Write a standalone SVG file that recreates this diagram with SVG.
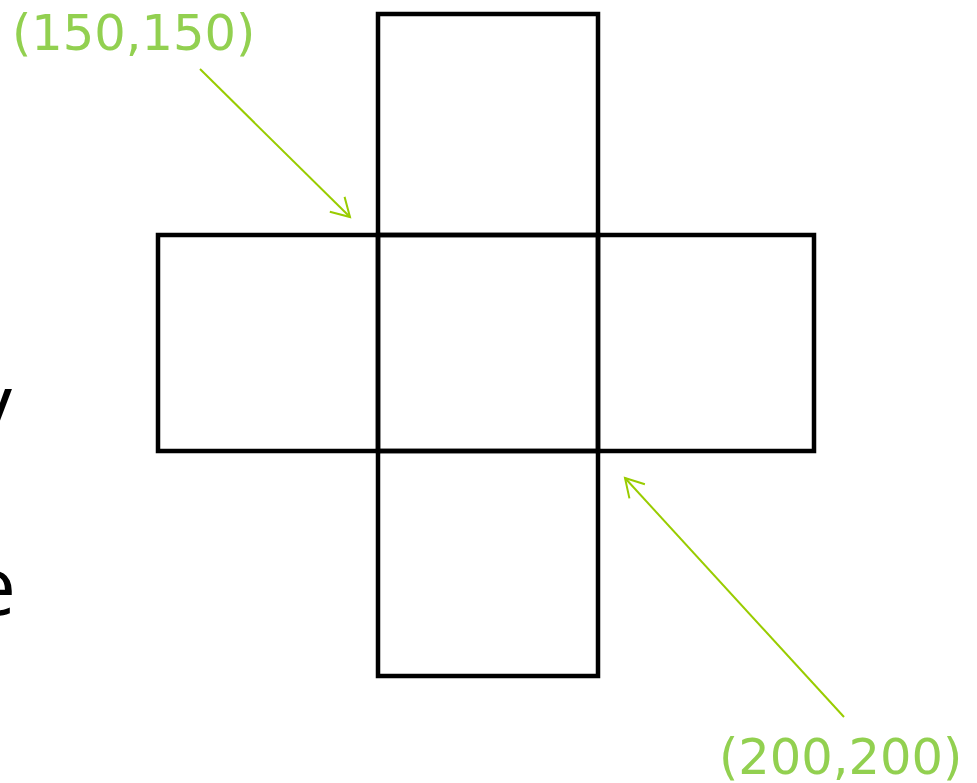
<svg xmlns="http://www.w3.org/2000/svg" width="977" height="783" viewBox="0 0 977 783">
  <style>
    .box { fill: none; stroke: #000; stroke-width: 4.5; }
    .lbl { font-family: "DejaVu Sans", Verdana, sans-serif; font-size: 49.5px; fill: #92D050; }
    .frag { font-family: "Open Sans", "Liberation Sans", sans-serif; font-size: 80px; fill: #000; }
    .arrow { stroke: #99CC00; stroke-width: 2; fill: none; }
  </style>
  <defs>
    <marker id="openArrow" markerUnits="userSpaceOnUse" markerWidth="24" markerHeight="26" refX="20" refY="12" orient="auto" viewBox="0 0 24 26">
      <path d="M2,1.5 L20,12 L2,22.5" fill="none" stroke="#99CC00" stroke-width="2"/>
    </marker>
  </defs>
  <rect width="977" height="783" fill="#fff"/>

  <g id="fragments">
    <text class="frag" x="-34" y="262">r</text>
    <text class="frag" x="-28" y="432">v</text>
    <text class="frag" x="-29" y="615">e</text>
  </g>

  <g id="square-top"><rect class="box" x="378" y="14" width="220" height="221"/></g>
  <g id="square-left"><rect class="box" x="158" y="235" width="220" height="216"/></g>
  <g id="square-center"><rect class="box" x="378" y="235" width="220" height="216"/></g>
  <g id="square-right"><rect class="box" x="598" y="235" width="216" height="216"/></g>
  <g id="square-bottom"><rect class="box" x="378" y="451" width="220" height="225"/></g>

  <g id="label-150"><text class="lbl" x="12" y="50">(150,150)</text></g>
  <g id="label-200"><text class="lbl" x="719" y="774">(200,200)</text></g>

  <g id="connectors">
    <line class="arrow" x1="200" y1="69" x2="350" y2="217" marker-end="url(#openArrow)"/>
    <line class="arrow" x1="844" y1="717" x2="625" y2="478" marker-end="url(#openArrow)"/>
  </g>
</svg>
